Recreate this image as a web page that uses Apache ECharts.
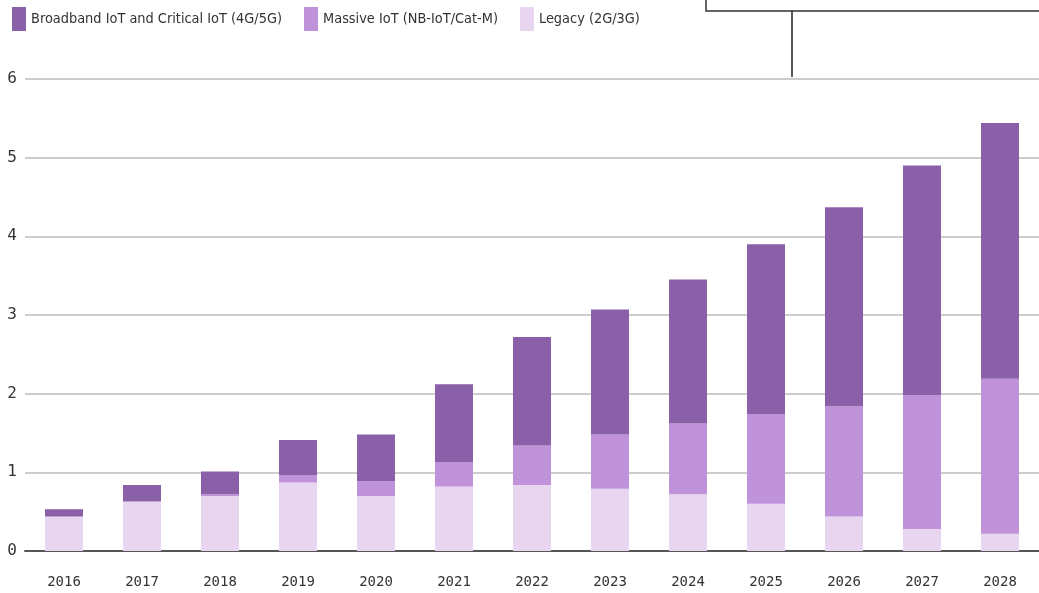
<!DOCTYPE html>
<html>
<head>
<meta charset="utf-8">
<script src="https://cdn.jsdelivr.net/npm/echarts@6/dist/echarts.min.js"></script>
<style>
  html, body { margin: 0; padding: 0; background: #fff; }
  #chart { width: 1039px; height: 593px; }
</style>
</head>
<body>
<div id="chart"></div>
<script>
// 年份
const years = ['2016', '2017', '2018', '2019', '2020', '2021', '2022', '2023', '2024', '2025', '2026', '2027', '2028']
// 各类连接数 (十亿)
const legacy = [0.44, 0.63, 0.70, 0.87, 0.70, 0.82, 0.84, 0.79, 0.72, 0.60, 0.44, 0.28, 0.22]
const massive = [0.0, 0.0, 0.02, 0.09, 0.19, 0.31, 0.50, 0.69, 0.90, 1.14, 1.40, 1.70, 1.97]
const broadband = [0.09, 0.21, 0.29, 0.45, 0.59, 0.99, 1.38, 1.59, 1.83, 2.16, 2.53, 2.92, 3.25]

const names = ['Broadband IoT and Critical IoT (4G/5G)', 'Massive IoT (NB-IoT/Cat-M)', 'Legacy (2G/3G)']
const colors = ['#8a60a8', '#bf92d9', '#e8d6f1']

const chart = echarts.init(document.getElementById('chart'))

const barSeries = (name, data, color) => ({
  name: name,
  type: 'bar',
  stack: 'total',
  barWidth: 38,
  data: data,
  itemStyle: { color: color },
  emphasis: { disabled: true },
})

chart.setOption({
  animation: false,
  legend: {
    left: 7,
    top: 2,
    icon: 'rect',
    itemWidth: 14,
    itemHeight: 24,
    itemGap: 22,
    data: names,
    textStyle: {
      fontFamily: '"Liberation Sans Narrow", "DejaVu Sans Condensed", sans-serif',
      fontSize: 14.4,
      color: '#333',
    },
  },
  grid: {
    left: 25,
    right: -13,
    top: 79,
    bottom: 42,
  },
  xAxis: {
    type: 'category',
    data: years,
    axisTick: { show: false },
    axisLine: { lineStyle: { color: '#555', width: 2 } },
    axisLabel: {
      margin: 24,
      fontFamily: '"DejaVu Sans Mono", monospace',
      fontSize: 14,
      color: '#333',
    },
  },
  yAxis: {
    type: 'value',
    min: 0,
    max: 6,
    interval: 1,
    axisLine: { show: false },
    axisTick: { show: false },
    splitLine: { lineStyle: { color: '#cccccc', width: 2 } },
    axisLabel: {
      margin: 8,
      fontFamily: '"DejaVu Sans Mono", monospace',
      fontSize: 16,
      color: '#333',
    },
  },
  graphic: [
    {
      type: 'rect',
      shape: { x: 706, y: -20, width: 360, height: 31 },
      style: { fill: '#fff', stroke: '#333', lineWidth: 1.5 },
    },
    {
      type: 'line',
      shape: { x1: 792, y1: 11, x2: 792, y2: 77 },
      style: { stroke: '#222', lineWidth: 1.5 },
    },
  ],
  series: [
    barSeries(names[2], legacy, colors[2]),
    barSeries(names[1], massive, colors[1]),
    barSeries(names[0], broadband, colors[0]),
  ],
})
</script>
</body>
</html>
